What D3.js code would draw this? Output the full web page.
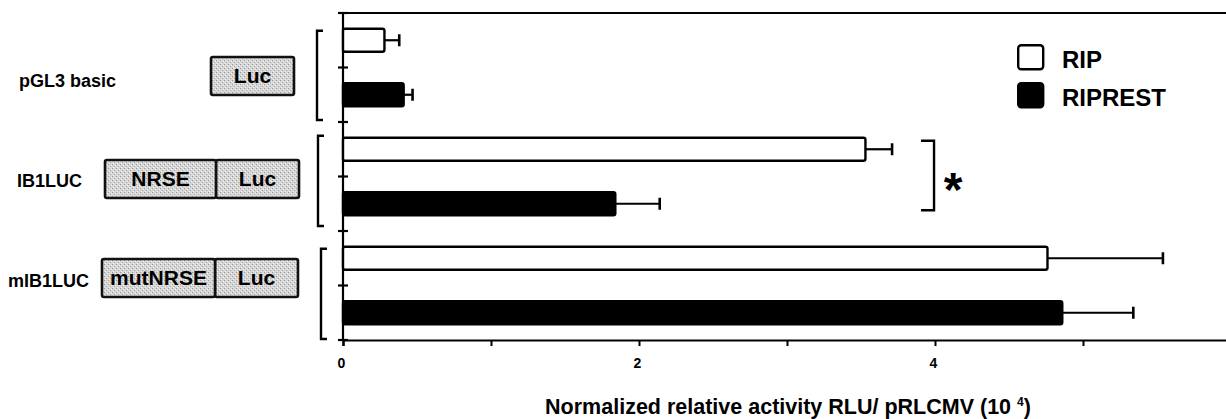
<!DOCTYPE html>
<html>
<head>
<meta charset="utf-8">
<script src="https://cdn.jsdelivr.net/npm/d3@7"></script>
<style>
  html, body { margin: 0; padding: 0; background: #fff; }
  svg { display: block; }
  text { font-family: "Liberation Sans", Arial, sans-serif; font-weight: bold; fill: #000; }
</style>
</head>
<body>
<svg id="chart" width="1226" height="419"></svg>
<script>
// ---- data ----
const categories = ["pGL3 basic", "IB1LUC", "mIB1LUC"];
const seriesNames = ["RIP", "RIPREST"];
const ripValues = [0.28, 3.53, 4.76];
const ripErrors = [0.10, 0.18, 0.78];
const riprestValues = [0.41, 1.84, 4.86];
const riprestErrors = [0.06, 0.30, 0.48];
const constructParts = [["Luc"], ["NRSE", "Luc"], ["mutNRSE", "Luc"]];
const xTickValues = [0, 1, 2, 3, 4, 5, 6];
const xTickLabels = ["0", "", "2", "", "4", "", ""];
const significance = ["*"];
const axisTitleMain = "Normalized relative activity RLU/ pRLCMV (10 ";
const axisTitleSup = "4";

// ---- layout ----
const svg = d3.select("#chart");
const plotLeft = 343, plotRight = 1231, plotTop = 13, plotBottom = 340;

const x = d3.scaleLinear().domain([0, 6]).range([plotLeft, plotRight]);

const rows = [];
categories.forEach((c, i) => {
  rows.push({cat: c, ci: i, s: "RIP", v: ripValues[i], e: ripErrors[i]});
  rows.push({cat: c, ci: i, s: "RIPREST", v: riprestValues[i], e: riprestErrors[i]});
});
const key = d => d.cat + "|" + d.s;
const y = d3.scaleBand().domain(rows.map(key)).range([plotTop, plotBottom])
  .paddingInner(0.58).paddingOuter(0.29);
const boundary = i => plotTop + i * y.step();

// pattern for construct boxes
const defs = svg.append("defs");
const pat = defs.append("pattern").attr("id", "stipple").attr("patternUnits", "userSpaceOnUse")
  .attr("width", 4).attr("height", 4);
pat.append("rect").attr("width", 4).attr("height", 4).attr("fill", "#d6d6d6");
pat.append("rect").attr("x", 0).attr("y", 0).attr("width", 1).attr("height", 1).attr("fill", "#9a9a9a");
pat.append("rect").attr("x", 2).attr("y", 2).attr("width", 1).attr("height", 1).attr("fill", "#a8a8a8");
pat.append("rect").attr("x", 1).attr("y", 3).attr("width", 1).attr("height", 1).attr("fill", "#f2f2f2");
pat.append("rect").attr("x", 3).attr("y", 1).attr("width", 1).attr("height", 1).attr("fill", "#f2f2f2");

// ---- axes ----
const xAxis = d3.axisBottom(x).tickValues(xTickValues).tickSize(6)
  .tickFormat((d, i) => xTickLabels[i]);
const gx = svg.append("g").attr("transform", `translate(0,${plotBottom})`).call(xAxis);
gx.select(".domain").attr("stroke", "#000").attr("stroke-width", 2.2);
gx.selectAll(".tick line").attr("stroke", "#000").attr("stroke-width", 2);
gx.selectAll(".tick text").attr("font-size", 14).attr("font-family", "Liberation Sans, Arial, sans-serif")
  .attr("font-weight", "bold").attr("dy", "1.36em").attr("dx", -2);

// top line
svg.append("line").attr("x1", plotLeft).attr("x2", 1226).attr("y1", plotTop).attr("y2", plotTop)
  .attr("stroke", "#000").attr("stroke-width", 2.2);
// left axis line
svg.append("line").attr("x1", plotLeft).attr("x2", plotLeft).attr("y1", plotTop).attr("y2", plotBottom)
  .attr("stroke", "#000").attr("stroke-width", 2.2);
// left ticks (crossing)
svg.append("g").selectAll("line").data(d3.range(0, rows.length + 1)).join("line")
  .attr("x1", plotLeft - 5).attr("x2", plotLeft + 5)
  .attr("y1", d => boundary(d)).attr("y2", d => boundary(d))
  .attr("stroke", "#000").attr("stroke-width", 2.2);

// ---- bars ----
const bh = y.bandwidth();
svg.append("g").selectAll("rect").data(rows).join("rect")
  .attr("x", x(0)).attr("y", d => y(key(d)))
  .attr("width", d => x(d.v) - x(0)).attr("height", bh)
  .attr("rx", 2)
  .attr("fill", d => d.s === "RIP" ? "#fff" : "#000")
  .attr("stroke", "#000").attr("stroke-width", 2.4);

// error bars
const eg = svg.append("g").attr("stroke", "#000").attr("stroke-width", 2.2);
eg.selectAll("line.h").data(rows).join("line").attr("class", "h")
  .attr("x1", d => x(d.v)).attr("x2", d => x(d.v + d.e))
  .attr("y1", d => y(key(d)) + bh / 2).attr("y2", d => y(key(d)) + bh / 2);
eg.selectAll("line.c").data(rows).join("line").attr("class", "c")
  .attr("x1", d => x(d.v + d.e)).attr("x2", d => x(d.v + d.e))
  .attr("y1", d => y(key(d)) + bh / 2 - 6).attr("y2", d => y(key(d)) + bh / 2 + 6)
  .attr("stroke-width", 2.6);

// ---- left brackets ----
const bracketX = [317, 318, 321];
const bracketTopPad = [2, -2, 2];
const bracketBotPad = [2, 5, 1];
categories.forEach((c, i) => {
  const top = y(c + "|RIP") + bracketTopPad[i];
  const bot = boundary(2 * i + 2) - bracketBotPad[i];
  const bx = bracketX[i];
  svg.append("path")
    .attr("d", `M${bx + 6},${top} H${bx} V${bot} H${bx + 6}`)
    .attr("fill", "none").attr("stroke", "#000").attr("stroke-width", 2.4);
});

// ---- construct labels and boxes ----
const labelX = [19, 17, 8];
const labelDy = [19.5, 10.5, 1.5];
const boxTopDy = [-10.5, -16.5, -26.5];
const boxH = 38;
const partW = {"Luc": 83, "NRSE": 111, "mutNRSE": 113};
const boxRight = [294, 299, 298];
categories.forEach((c, i) => {
  const cy = boundary(2 * i + 1);
  svg.append("text").attr("x", labelX[i]).attr("y", cy + labelDy[i])
    .attr("font-size", 18).text(c);
  const parts = constructParts[i];
  let right = boxRight[i];
  const bt = cy + boxTopDy[i];
  for (let p = parts.length - 1; p >= 0; p--) {
    const w = partW[parts[p]];
    const left = right - w;
    svg.append("rect").attr("x", left).attr("y", bt).attr("width", w).attr("height", boxH)
      .attr("rx", 2).attr("fill", "url(#stipple)").attr("stroke", "#111").attr("stroke-width", 2.6);
    svg.append("text").attr("x", left + w / 2).attr("y", bt + boxH - 12)
      .attr("text-anchor", "middle").attr("font-size", 21).text(parts[p]);
    right = left;
  }
});

// ---- significance bracket ----
const sigTop = y("IB1LUC|RIP") + 3;
const sigBot = y("IB1LUC|RIPREST") + bh - 5;
const sx = x(3.98) - 11;
svg.append("path").attr("d", `M${sx},${sigTop} H${sx + 13} V${sigBot} H${sx}`)
  .attr("fill", "none").attr("stroke", "#000").attr("stroke-width", 2.4);
svg.append("text").attr("x", sx + 32).attr("y", (sigTop + sigBot) / 2 + 30)
  .attr("text-anchor", "middle").attr("font-size", 48).text(significance[0]);

// ---- legend ----
const lg = svg.append("g").attr("transform", "translate(1017,44)");
seriesNames.forEach((s, i) => {
  const gy = i * 38;
  lg.append("rect").attr("x", 1.2).attr("y", gy + 1.2).attr("width", 25).attr("height", 24)
    .attr("rx", 3).attr("fill", s === "RIP" ? "#fff" : "#000")
    .attr("stroke", "#000").attr("stroke-width", 2.4);
  lg.append("text").attr("x", 45).attr("y", gy + 24).attr("font-size", 24).text(s);
});

// ---- axis title ----
const title = svg.append("text").attr("x", 788).attr("y", 414).attr("text-anchor", "middle")
  .attr("font-size", 21.5);
title.append("tspan").text(axisTitleMain);
title.append("tspan").attr("font-size", 12).attr("dy", -8).text(axisTitleSup);
title.append("tspan").attr("dy", 8).text(")");
</script>
</body>
</html>
